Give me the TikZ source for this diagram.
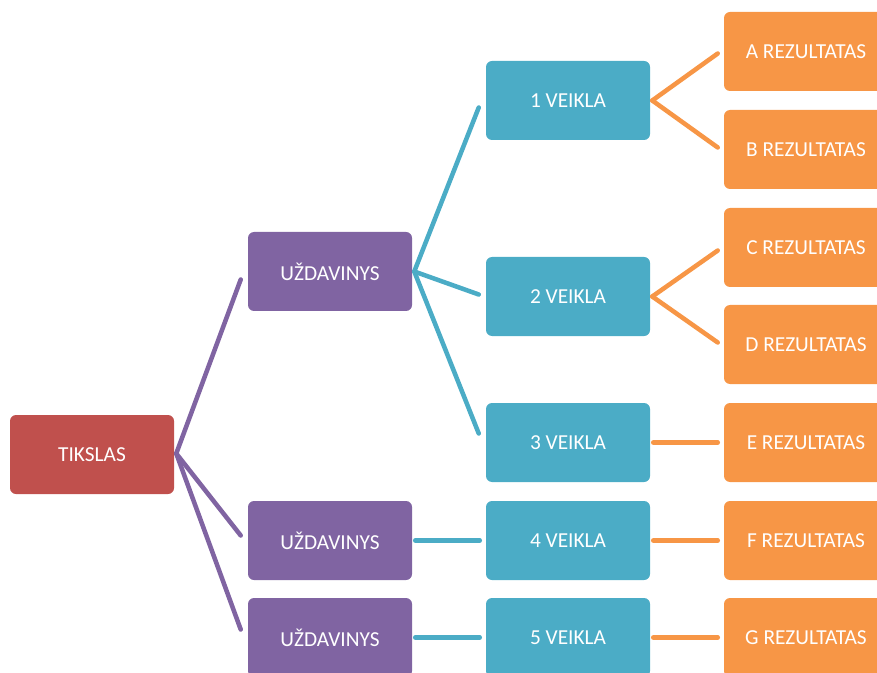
\documentclass[tikz,border=0pt]{standalone}
\usepackage{fontspec}
\setmainfont{Carlito}
\usetikzlibrary{calc}
\definecolor{cred}{HTML}{C0504D}
\definecolor{cpurple}{HTML}{8064A2}
\definecolor{cteal}{HTML}{4BACC6}
\definecolor{corange}{HTML}{F79646}
\tikzset{
  box/.style={rectangle, rounded corners=4.5pt, minimum width=123pt, minimum height=59.25pt,
    inner sep=0pt, text=white, font=\fontsize{16}{19}\selectfont},
  goal/.style={box, fill=cred},
  task/.style={box, fill=cpurple},
  act/.style={box, fill=cteal},
  res/.style={box, fill=corange},
  link/.style={line width=3.4pt, line cap=round},
  plink/.style={link, draw=cpurple},
  tlink/.style={link, draw=cteal},
  olink/.style={link, draw=corange}
}
\begin{document}
\begin{tikzpicture}[x=0.75pt, y=-0.75pt]
\useasboundingbox (0,0) rectangle (877,673);
\clip (0,0) rectangle (877,673);
\node[goal] (t) at (92,454.5) {TIKSLAS};
\node[task] (u1) at (330,271.5) {UŽDAVINYS};
\node[task] (u2) at (330,540.5) {UŽDAVINYS};
\node[task] (u3) at (330,637.5) {UŽDAVINYS};
\node[act] (v1) at (568,100.5) {1 VEIKLA};
\node[act] (v2) at (568,296.5) {2 VEIKLA};
\node[act] (v3) at (568,442.5) {3 VEIKLA};
\node[act] (v4) at (568,540.5) {4 VEIKLA};
\node[act] (v5) at (568,637.5) {5 VEIKLA};
\node[res] (ra) at (806,51.5) {A REZULTATAS};
\node[res] (rb) at (806,149.5) {B REZULTATAS};
\node[res] (rc) at (806,247.5) {C REZULTATAS};
\node[res] (rd) at (806,344.5) {D REZULTATAS};
\node[res] (re) at (806,442.5) {E REZULTATAS};
\node[res] (rf) at (806,540.5) {F REZULTATAS};
\node[res] (rg) at (806,637.5) {G REZULTATAS};
% goal -> tasks
\draw[plink] ($(t.east)+(2,-1)$) -- ($(u1.west)+(-7,8)$);
\draw[plink] ($(t.east)+(2,-1)$) -- ($(u2.west)+(-7,-5)$);
\draw[plink] ($(t.east)+(2,-1)$) -- ($(u3.west)+(-7,-8)$);
% task 1 -> activities
\draw[tlink] ($(u1.east)+(2,0)$) -- ($(v1.west)+(-7,7)$);
\draw[tlink] ($(u1.east)+(2,0)$) -- ($(v2.west)+(-7,-2)$);
\draw[tlink] ($(u1.east)+(2,0)$) -- ($(v3.west)+(-7,-9)$);
\draw[tlink] ($(u2.east)+(3,0)$) -- ($(v4.west)+(-6,0)$);
\draw[tlink] ($(u3.east)+(3,0)$) -- ($(v5.west)+(-6,0)$);
% activities -> results
\draw[olink] ($(v1.east)+(2,0)$) -- ($(ra.west)+(-6,2)$);
\draw[olink] ($(v1.east)+(2,0)$) -- ($(rb.west)+(-6,-2)$);
\draw[olink] ($(v2.east)+(2,0)$) -- ($(rc.west)+(-6,3)$);
\draw[olink] ($(v2.east)+(2,0)$) -- ($(rd.west)+(-6,-2)$);
\draw[olink] ($(v3.east)+(3,0)$) -- ($(re.west)+(-6,0)$);
\draw[olink] ($(v4.east)+(3,0)$) -- ($(rf.west)+(-6,0)$);
\draw[olink] ($(v5.east)+(3,0)$) -- ($(rg.west)+(-6,0)$);
\end{tikzpicture}
\end{document}
